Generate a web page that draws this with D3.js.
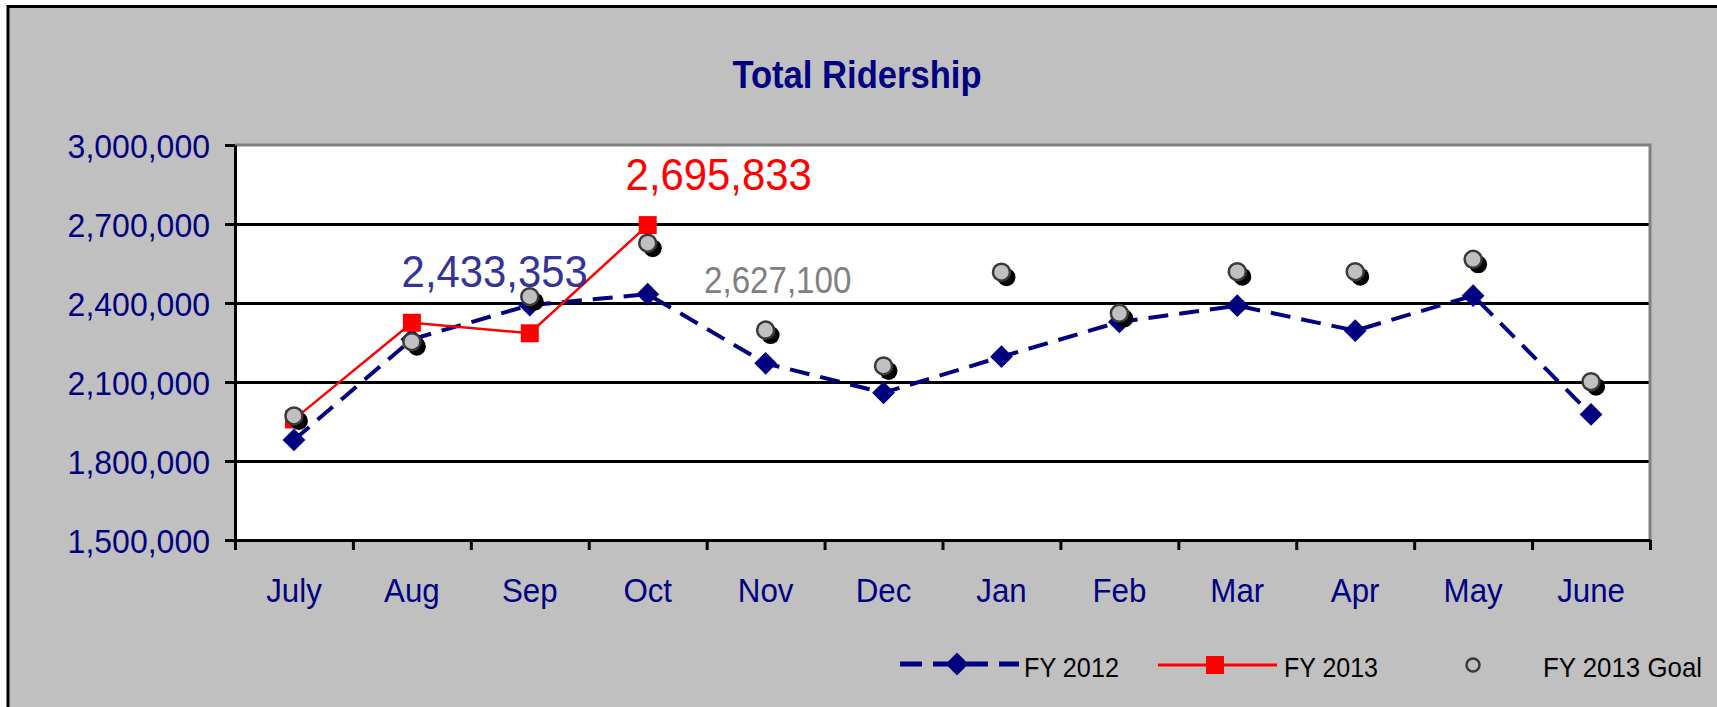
<!DOCTYPE html>
<html>
<head>
<meta charset="utf-8">
<script src="https://cdn.jsdelivr.net/npm/d3@7"></script>
<style>
  body { margin: 0; background: #fff; }
  text { font-family: "Liberation Sans", Arial, sans-serif; }
</style>
</head>
<body>
<div id="chart"></div>
<script>
const months = ["July", "Aug", "Sep", "Oct", "Nov", "Dec", "Jan", "Feb", "Mar", "Apr", "May", "June"];
const fy2012 = [1880000, 2262000, 2392000, 2433353, 2171000, 2059000, 2196000, 2328000, 2390000, 2295000, 2428000, 1977000];
const fy2013 = [1958000, 2325000, 2285000, 2695833];
const fy2013Goal = [1971000, 2253000, 2424000, 2627100, 2297000, 2161000, 2517000, 2361000, 2519000, 2519000, 2566000, 2101000];
const yTicks = [1500000, 1800000, 2100000, 2400000, 2700000, 3000000];
const seriesNames = ["FY 2012", "FY 2013", "FY 2013 Goal"];

const margin = {top: 145, left: 235};
const width = 1415, height = 395;

const svg = d3.select("#chart").append("svg")
  .attr("width", 1717)
  .attr("height", 707);

// chart area (cropped on the right and bottom like the original)
svg.append("rect")
  .attr("x", 8).attr("y", 6.5)
  .attr("width", 1740).attr("height", 740)
  .attr("fill", "#c0c0c0")
  .attr("stroke", "#000").attr("stroke-width", 3);

// squeeze text horizontally (original font is narrower)
function squeeze(sel, k) {
  sel.each(function() {
    const w = this.getComputedTextLength();
    d3.select(this).attr("textLength", w * k).attr("lengthAdjust", "spacingAndGlyphs");
  });
}

svg.append("text")
  .attr("x", 857).attr("y", 88)
  .attr("text-anchor", "middle")
  .attr("font-size", 38).attr("font-weight", "bold")
  .attr("fill", "#000080")
  .text("Total Ridership")
  .call(squeeze, 0.91);

const g = svg.append("g").attr("transform", `translate(${margin.left},${margin.top})`);

const x = d3.scaleBand().domain(months).range([0, width]);
const xi = d3.scaleLinear().domain([0, months.length]).range([0, width]);
const y = d3.scaleLinear().domain([1500000, 3000000]).range([height, 0]);

g.append("rect").attr("width", width).attr("height", height).attr("fill", "#fff");

// gridlines
g.append("g")
  .call(d3.axisLeft(y).tickValues(yTicks.slice(1, -1)).tickSize(-width).tickFormat(""))
  .call(a => a.select(".domain").remove())
  .selectAll("line").attr("stroke", "#000").attr("stroke-width", 3);

// plot border top/right
g.append("path")
  .attr("d", `M0,0H${width}V${height}`)
  .attr("fill", "none").attr("stroke", "#808080").attr("stroke-width", 3);

// y axis
const yAxis = g.append("g")
  .call(d3.axisLeft(y).tickValues(yTicks).tickSize(10).tickSizeOuter(0).tickFormat(d3.format(",")));
yAxis.select(".domain").attr("stroke", "#000").attr("stroke-width", 3);
yAxis.selectAll(".tick line").attr("stroke", "#000").attr("stroke-width", 3);
yAxis.selectAll(".tick text")
  .attr("x", -25).attr("dy", 12)
  .attr("font-size", 33).attr("fill", "#000080")
  .call(squeeze, 0.97);

// x axis ticks at category boundaries
const xAxis = g.append("g")
  .attr("transform", `translate(0,${height})`)
  .call(d3.axisBottom(xi).tickValues(d3.range(months.length + 1)).tickSize(10).tickSizeOuter(0).tickFormat(""));
xAxis.select(".domain").attr("stroke", "#000").attr("stroke-width", 3);
xAxis.selectAll(".tick line").attr("stroke", "#000").attr("stroke-width", 3);

const xLab = g.append("g")
  .attr("transform", `translate(0,${height})`)
  .call(d3.axisBottom(x).tickSize(0));
xLab.select(".domain").remove();
xLab.selectAll(".tick text")
  .attr("y", 62).attr("dy", 0)
  .attr("font-size", 34).attr("fill", "#000080")
  .call(squeeze, 0.92);

const cx = (d, i) => x(months[i]) + x.bandwidth() / 2;

// FY 2012
const diamond = d3.symbol(d3.symbolSquare, 260);
g.append("path")
  .datum(fy2012)
  .attr("fill", "none").attr("stroke", "#000080").attr("stroke-width", 4)
  .attr("stroke-dasharray", "20,11")
  .attr("d", d3.line().x(cx).y(d => y(d)));
g.selectAll(".d12").data(fy2012).enter().append("path")
  .attr("class", "d12")
  .attr("d", diamond)
  .attr("transform", (d, i) => `translate(${cx(d, i)},${y(d)}) rotate(45)`)
  .attr("fill", "#000080");

// FY 2013
g.append("path")
  .datum(fy2013)
  .attr("fill", "none").attr("stroke", "#ff0000").attr("stroke-width", 2.5)
  .attr("d", d3.line().x(cx).y(d => y(d)));
g.selectAll(".d13").data(fy2013).enter().append("rect")
  .attr("class", "d13")
  .attr("x", (d, i) => cx(d, i) - 9).attr("y", d => y(d) - 9)
  .attr("width", 18).attr("height", 18)
  .attr("fill", "#ff0000");

// FY 2013 Goal
const goals = g.selectAll(".goal").data(fy2013Goal).enter().append("g")
  .attr("class", "goal")
  .attr("transform", (d, i) => `translate(${cx(d, i)},${y(d)})`);
goals.append("circle").attr("cx", 5).attr("cy", 5).attr("r", 9).attr("fill", "#000");
goals.append("circle").attr("r", 8.5).attr("fill", "#c0c0c0").attr("stroke", "#3a3a3a").attr("stroke-width", 2.5);

// value callouts for October
const oct = months.indexOf("Oct");
const xo = cx(null, oct);
g.append("text")
  .attr("x", xo - 153).attr("y", y(fy2012[oct]) - 7.5)
  .attr("text-anchor", "middle").attr("font-size", 45).attr("fill", "#333399")
  .text(d3.format(",")(fy2012[oct]))
  .call(squeeze, 0.93);
g.append("text")
  .attr("x", xo + 71).attr("y", y(fy2013[oct]) - 35)
  .attr("text-anchor", "middle").attr("font-size", 45).attr("fill", "#ff0000")
  .text(d3.format(",")(fy2013[oct]))
  .call(squeeze, 0.93);
g.append("text")
  .attr("x", xo + 130).attr("y", y(fy2013Goal[oct]) + 49.5)
  .attr("text-anchor", "middle").attr("font-size", 36).attr("fill", "#808080")
  .text(d3.format(",")(fy2013Goal[oct]))
  .call(squeeze, 0.92);

// legend
const lg = svg.append("g");
lg.append("line").attr("x1", 900).attr("x2", 1019).attr("y1", 664).attr("y2", 664)
  .attr("stroke", "#000080").attr("stroke-width", 5).attr("stroke-dasharray", "22,11");
lg.append("path").attr("d", diamond).attr("transform", "translate(957,664) rotate(45)").attr("fill", "#000080");
lg.append("line").attr("x1", 1158).attr("x2", 1277).attr("y1", 665).attr("y2", 665)
  .attr("stroke", "#ff0000").attr("stroke-width", 3);
lg.append("rect").attr("x", 1206).attr("y", 656).attr("width", 18).attr("height", 18).attr("fill", "#ff0000");
lg.append("circle").attr("cx", 1473).attr("cy", 665).attr("r", 6.5)
  .attr("fill", "#c0c0c0").attr("stroke", "#3a3a3a").attr("stroke-width", 2.5);

const legX = [1024, 1284, 1543];
const legW = [95, 94, 159];
lg.selectAll(".lt").data(seriesNames).enter().append("text")
  .attr("class", "lt")
  .attr("x", (d, i) => legX[i]).attr("y", 677)
  .attr("font-size", 28).attr("fill", "#000")
  .text(d => d)
  .attr("textLength", (d, i) => legW[i]).attr("lengthAdjust", "spacingAndGlyphs");
</script>
</body>
</html>
